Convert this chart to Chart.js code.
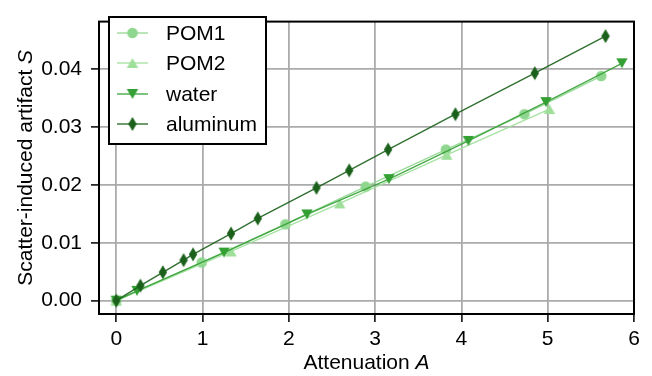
<!DOCTYPE html>
<html lang="en">
<head>
  <meta charset="UTF-8">
  <title>Scatter-induced artifact vs attenuation</title>
  <style>
    html, body { margin: 0; padding: 0; background: #fff; }
    #chart { display: block; }
  </style>
</head>
<body>
  <canvas id="chart" width="652" height="376"></canvas>

  <script src="https://cdn.jsdelivr.net/npm/chart.js"></script>
  <script>
    // data
    const pom1X = [0, 0.99, 1.96, 2.89, 3.82, 4.73, 5.62];
    const pom1Y = [0, 0.0066, 0.0132, 0.0197, 0.0261, 0.0322, 0.0388];

    const pom2X = [0, 1.33, 2.59, 3.83, 5.02];
    const pom2Y = [0, 0.0085, 0.0168, 0.0252, 0.0331];

    const waterX = [0, 0.24, 1.25, 2.21, 3.16, 4.08, 4.98, 5.86];
    const waterY = [0, 0.0017, 0.0083, 0.0149, 0.0210, 0.0276, 0.0343, 0.0410];

    const aluX = [0, 0.28, 0.54, 0.78, 0.89, 1.33, 1.64, 2.32, 2.70, 3.15, 3.93, 4.85, 5.67];
    const aluY = [0, 0.0026, 0.0049, 0.0070, 0.0080, 0.0116, 0.0142, 0.0195, 0.0225, 0.0261, 0.0322, 0.0393, 0.0457];

    const xTicks = [0, 1, 2, 3, 4, 5, 6];
    const yTicks = [0, 0.01, 0.02, 0.03, 0.04];

    const FONT = "'Liberation Sans', Arial, sans-serif";
    const FS = 21;

    // little canvases used as point markers (matplotlib-like shapes)
    function makeMarker(shape, color) {
      const c = document.createElement('canvas');
      c.width = 18; c.height = 18;
      const g = c.getContext('2d');
      g.translate(9, 9);
      g.beginPath();
      if (shape === 'circle') {
        g.arc(0, 0, 5.3, 0, Math.PI * 2);
      } else if (shape === 'up') {
        g.moveTo(0, -5); g.lineTo(5.7, 5); g.lineTo(-5.7, 5);
      } else if (shape === 'down') {
        g.moveTo(0, 5); g.lineTo(5.7, -5); g.lineTo(-5.7, -5);
      } else if (shape === 'thindiamond') {
        g.moveTo(0, -7); g.lineTo(4.2, 0); g.lineTo(0, 7); g.lineTo(-4.2, 0);
      }
      g.closePath();
      g.fillStyle = color;
      g.fill();
      return c;
    }

    const series = [
      { name: 'POM1', xs: pom1X, ys: pom1Y, color: '#8fd68f', line: 'rgba(143,214,143,0.9)', shape: 'circle' },
      { name: 'POM2', xs: pom2X, ys: pom2Y, color: '#9edf9a', line: 'rgba(158,223,154,0.9)', shape: 'up' },
      { name: 'water', xs: waterX, ys: waterY, color: '#34a034', line: 'rgba(52,160,52,0.9)', shape: 'down' },
      { name: 'aluminum', xs: aluX, ys: aluY, color: '#1b611b', line: 'rgba(27,97,27,0.9)', shape: 'thindiamond' }
    ];
    series.forEach(s => { s.marker = makeMarker(s.shape, s.color); });

    const datasets = series.map((s, i) => ({
      label: s.name,
      data: s.xs.map((x, j) => ({ x: x, y: s.ys[j] })),
      showLine: true,
      borderColor: s.line,
      borderWidth: 1.4,
      pointStyle: s.marker,
      pointRadius: 6,
      pointHoverRadius: 6,
      order: series.length - 1 - i
    }));

    // frame, axis titles with italic symbols, and the legend box
    const extras = {
      id: 'extras',
      afterDraw(chart) {
        const ctx = chart.ctx;
        const a = chart.chartArea;
        ctx.save();

        ctx.strokeStyle = '#000';
        ctx.lineWidth = 2;
        ctx.strokeRect(a.left, a.top, a.right - a.left, a.bottom - a.top);

        ctx.fillStyle = '#000';
        ctx.textBaseline = 'alphabetic';
        const plain = FS + 'px ' + FONT;
        const ital = 'italic ' + FS + 'px ' + FONT;

        // x title
        ctx.font = plain;
        let w1 = ctx.measureText('Attenuation ').width;
        ctx.font = ital;
        let w2 = ctx.measureText('A').width;
        let sx = (a.left + a.right) / 2 - (w1 + w2) / 2;
        ctx.font = plain;
        ctx.textAlign = 'left';
        ctx.fillText('Attenuation ', sx, 369);
        ctx.font = ital;
        ctx.fillText('A', sx + w1, 369);

        // y title
        ctx.save();
        ctx.translate(32, (a.top + a.bottom) / 2);
        ctx.rotate(-Math.PI / 2);
        ctx.font = plain;
        w1 = ctx.measureText('Scatter-induced artifact ').width;
        ctx.font = ital;
        w2 = ctx.measureText('S').width;
        sx = -(w1 + w2) / 2;
        ctx.font = plain;
        ctx.fillText('Scatter-induced artifact ', sx, 0);
        ctx.font = ital;
        ctx.fillText('S', sx + w1, 0);
        ctx.restore();

        // legend
        ctx.fillStyle = '#fff';
        ctx.fillRect(109, 17, 157, 127);
        ctx.strokeStyle = '#000';
        ctx.lineWidth = 2;
        ctx.strokeRect(109, 17, 157, 127);
        const rows = [33, 63, 94, 124];
        series.forEach((s, i) => {
          const y = rows[i];
          ctx.strokeStyle = s.line;
          ctx.lineWidth = 1.4;
          ctx.beginPath();
          ctx.moveTo(117, y);
          ctx.lineTo(148, y);
          ctx.stroke();
          ctx.drawImage(s.marker, 132.5 - 9, y - 9);
          ctx.fillStyle = '#000';
          ctx.font = plain;
          ctx.textBaseline = 'middle';
          ctx.textAlign = 'left';
          ctx.fillText(s.name, 166, y + 1);
        });

        ctx.restore();
      }
    };

    const tickFont = { family: FONT, size: FS };
    const gridOpts = { color: '#ababab', lineWidth: 1.8, tickLength: 8, tickColor: '#000', tickWidth: 1.5 };

    new Chart(document.getElementById('chart'), {
      type: 'scatter',
      data: { datasets: datasets },
      plugins: [extras],
      options: {
        responsive: false,
        animation: false,
        devicePixelRatio: 1,
        layout: { padding: { left: 0, right: 18, top: 6, bottom: 0 } },
        plugins: {
          legend: { display: false },
          tooltip: { enabled: false }
        },
        scales: {
          x: {
            type: 'linear',
            min: -0.2,
            max: 6.0,
            afterBuildTicks: s => { s.ticks = xTicks.map(v => ({ value: v })); },
            afterFit: s => { s.height = 62; },
            border: { display: false },
            grid: gridOpts,
            ticks: { color: '#000', font: tickFont, padding: 5, maxRotation: 0, callback: v => String(v) }
          },
          y: {
            type: 'linear',
            min: -0.0023,
            max: 0.0482,
            afterBuildTicks: s => { s.ticks = yTicks.map(v => ({ value: v })); },
            afterFit: s => { s.width = 99; },
            border: { display: false },
            grid: gridOpts,
            ticks: { color: '#000', font: tickFont, padding: 9, callback: v => v.toFixed(2) }
          }
        }
      }
    });
  </script>
</body>
</html>
